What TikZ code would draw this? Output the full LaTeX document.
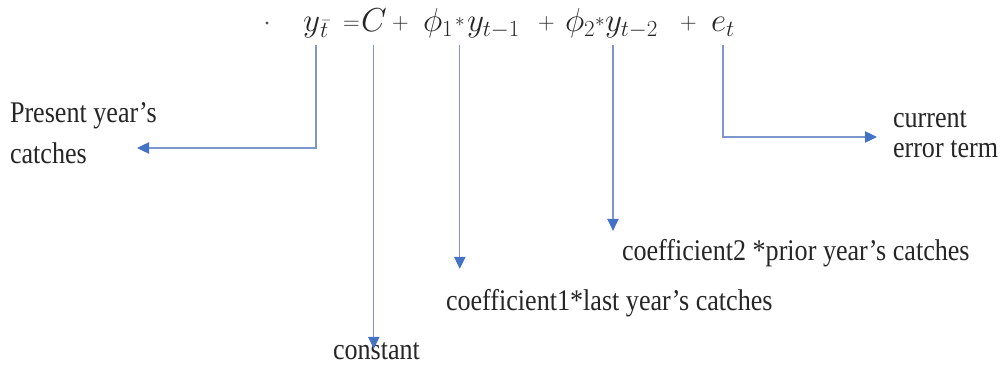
\documentclass[tikz,border=0pt]{standalone}
\usepackage{fontspec}
\usepackage{graphicx}
\setmainfont{Liberation Serif}[FakeStretch=0.87]
\usetikzlibrary{arrows.meta}
\definecolor{arrowblue}{HTML}{4472C4}
\definecolor{linecol}{RGB}{125,150,205}
\definecolor{ink}{HTML}{262626}
\begin{document}
\begin{tikzpicture}[x=0.75pt,y=-0.75pt,
  term/.style={anchor=base west, inner sep=0pt, outer sep=0pt, text=ink,
    font=\fontsize{24}{28}\selectfont},
  opr/.style={anchor=base west, inner sep=0pt, outer sep=0pt, text=ink,
    font=\fontsize{18}{20}\selectfont},
  star/.style={anchor=base west, inner sep=0pt, outer sep=0pt, text=ink,
    font=\fontsize{15}{16}\selectfont},
  lbl/.style={anchor=base west, inner sep=0pt, outer sep=0pt, text=ink, align=left,
    font=\fontsize{22.5}{26}\selectfont},
  arr/.style={draw=linecol, line width=0.9pt,
    -{Triangle[width=8.5pt,length=9pt,color=arrowblue]}}]
\useasboundingbox (0,0) rectangle (1002,374);
% equation terms
\node[circle, fill=ink!80, inner sep=0pt, minimum size=2.6pt] (dot) at (267,23) {};
\node[term] (yt)  at (303,32) {$y_{\kern1pt\bar t}$};
\node[opr]  (eq)  at (343,30) {$=$};
\node[term] (C)   at (361,32) {$C$};
\node[opr]  (pl1) at (392,30) {$+$};
\node[term] (ph1) at (423,32) {$\phi_1$};
\node[star] (s1)  at (455,27) {$*$};
\node[term] (y1)  at (467,32) {$y_{t-1}$};
\node[opr]  (pl2) at (538,30) {$+$};
\node[term] (ph2) at (565,32) {$\phi_2$};
\node[star] (s2)  at (595,27) {$*$};
\node[term] (y2)  at (605,32) {$y_{t-2}$};
\node[opr]  (pl3) at (680,30) {$+$};
\node[term] (et)  at (711,32) {$e_t$};
% labels
\node[lbl, font=\fontsize{22.5}{30.75}\selectfont] (pres) at (10,164) {Present year’s\\catches};
\node[lbl, font=\fontsize{22.5}{21.75}\selectfont] (cur)  at (893,157) {current\\error term};
\node[lbl] (c2)    at (622,260) {coefficient2 *prior year’s catches};
\node[lbl] (c1)    at (446,310) {coefficient1*last year’s catches};
\node[lbl] (const) at (333,359) {constant};
% helper coordinates
\coordinate (top) at (0,45);
\coordinate (tp) at (137,148);
\coordinate (tc) at (877,137);
\coordinate (a2) at ([xshift=6pt]y2.base west);
% connectors
\draw[arr] (yt |- top) |- (tp);
\draw[arr] (C |- top) -- ([yshift=-5pt]C |- const.north);
\draw[arr, shorten >=15pt] (s1 |- top) -- (s1 |- c1.north);
\draw[arr, shorten >=6pt] (a2 |- top) -- (a2 |- c2.north);
\draw[arr] (et |- top) |- (tc);
\end{tikzpicture}
\end{document}
